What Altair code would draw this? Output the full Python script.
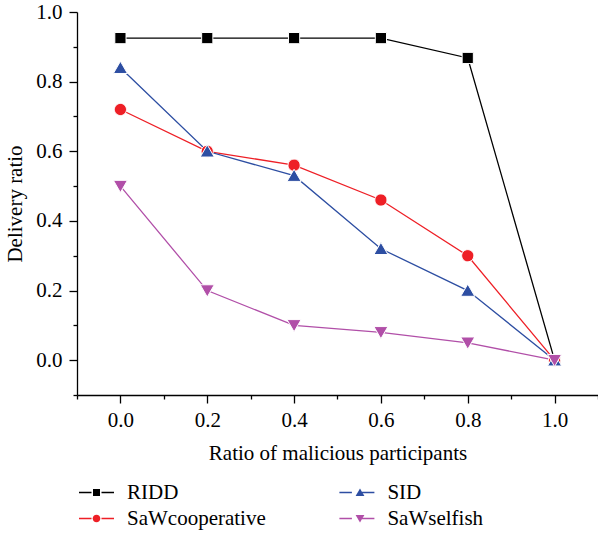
import altair as alt
import pandas as pd

# Delivery ratio against the share of malicious participants
ratios = [0.0, 0.2, 0.4, 0.6, 0.8, 1.0]
ridd = [0.925, 0.925, 0.925, 0.925, 0.868, 0.0]
saw_coop = [0.72, 0.60, 0.56, 0.46, 0.30, 0.0]
sid = [0.84, 0.60, 0.53, 0.32, 0.20, 0.0]
saw_selfish = [0.50, 0.20, 0.10, 0.08, 0.05, 0.0]

series = {
    "RIDD": ridd,
    "SaWcooperative": saw_coop,
    "SID": sid,
    "SaWselfish": saw_selfish,
}
rows = []
for name, vals in series.items():
    for x, y in zip(ratios, vals):
        rows.append({"ratio": x, "delivery": y, "scheme": name, "curve": name})
df = pd.DataFrame(rows)

# key entries fill the two columns top to bottom
legend_order = ["RIDD", "SaWcooperative", "SID", "SaWselfish"]
palette = ["#000000", "#ee1f26", "#2d4ea2", "#b14fa8"]

# marker outlines in the unit box; the plot draws them at size 1024,
# the key at its symbol size of 400
marker_paths = [
    "M-0.35,-0.35H0.35V0.35H-0.35Z",
    "M-0.38,0A0.38,0.38,0,1,0,0.38,0A0.38,0.38,0,1,0,-0.38,0Z",
    "M0,-0.4L0.44,0.36H-0.44Z",
    "M0,0.4L0.44,-0.36H-0.44Z",
]
line_glyph = "M-1.75,0H-0.5M0.5,0H1.75"

FONT = "Liberation Serif"
KEY = dict(
    title=None,
    orient="none",
    legendX=8.5,
    legendY=469.5,
    columns=2,
    padding=0,
    symbolSize=400,
    labelOffset=19.5,
    rowPadding=5,
    labelFont=FONT,
    labelFontSize=21,
    labelColor="#000000",
)

x_ticks = [round(-0.1 + 0.1 * i, 1) for i in range(13)]
y_ticks = [round(-0.1 + 0.1 * i, 1) for i in range(12)]
even_label = "abs(round(datum.value * 10)) % 2 == 0 ? format(datum.value, '.1f') : ''"
minor_test = "abs(round(datum.value * 10)) % 2 == 1"

x_enc = alt.X(
    "ratio:Q",
    scale=alt.Scale(domain=[-0.1, 1.1], nice=False, zero=False),
    axis=alt.Axis(
        title="Ratio of malicious participants",
        values=x_ticks,
        labelExpr=even_label,
        labelFlush=False,
        labelOverlap=False,
        tickSize={"condition": {"test": minor_test, "value": 4}, "value": 8},
        labelPadding=6,
        titlePadding=12,
    ),
)
y_enc = alt.Y(
    "delivery:Q",
    scale=alt.Scale(domain=[-0.1, 1.0], nice=False, zero=False),
    axis=alt.Axis(
        title="Delivery ratio",
        values=y_ticks,
        labelExpr=even_label,
        labelFlush=False,
        labelOverlap=False,
        tickSize={"condition": {"test": minor_test, "value": 4}, "value": 8},
        labelPadding=7,
        titlePadding=10,
    ),
)

fill_scale = alt.Scale(domain=legend_order, range=palette)
shape_scale = alt.Scale(domain=legend_order, range=marker_paths)
marker_key = alt.Legend(labelOpacity=0, columnPadding=82.5, **KEY)

# curves, whose key holds the line pieces and the scheme names
lines = alt.Chart(df).mark_line(strokeWidth=1.3).encode(
    x=x_enc,
    y=y_enc,
    color=alt.Color(
        "curve:N",
        sort=legend_order,
        scale=alt.Scale(range=palette),
        legend=alt.Legend(
            symbolType=line_glyph, symbolStrokeWidth=1.3, columnPadding=69.4, **KEY
        ),
    ),
    detail="curve:N",
)

# markers for the key only, laid over the line pieces
key_markers = (
    alt.Chart(df)
    .transform_filter("false")
    .mark_point(filled=True, opacity=1)
    .encode(
        x=x_enc,
        y=y_enc,
        fill=alt.Fill("scheme:N", scale=fill_scale, legend=marker_key),
        shape=alt.Shape("scheme:N", scale=shape_scale, legend=marker_key),
    )
)

# plotted markers
points = alt.Chart(df).mark_point(
    filled=True, opacity=1, size=1024, stroke="white", strokeWidth=1
).encode(
    x=x_enc,
    y=y_enc,
    fill=alt.Fill("scheme:N", scale=fill_scale, legend=None),
    shape=alt.Shape("scheme:N", scale=shape_scale, legend=None),
)

chart = (
    alt.layer(lines, key_markers, points)
    .properties(
        width=521,
        height=383,
        autosize=alt.AutoSizeParams(type="none"),
        padding={"left": 77, "top": 12, "right": 0, "bottom": 138},
    )
    .configure_view(stroke=None)
    .configure_axis(
        domainColor="#000000",
        domainWidth=1.3,
        tickColor="#000000",
        tickWidth=1.3,
        grid=False,
        labelFont=FONT,
        labelFontSize=21,
        labelColor="#000000",
        titleFont=FONT,
        titleFontSize=21,
        titleFontWeight="normal",
        titleColor="#000000",
    )
)

chart.save("out.html", embed_options={"renderer": "svg", "actions": False})
